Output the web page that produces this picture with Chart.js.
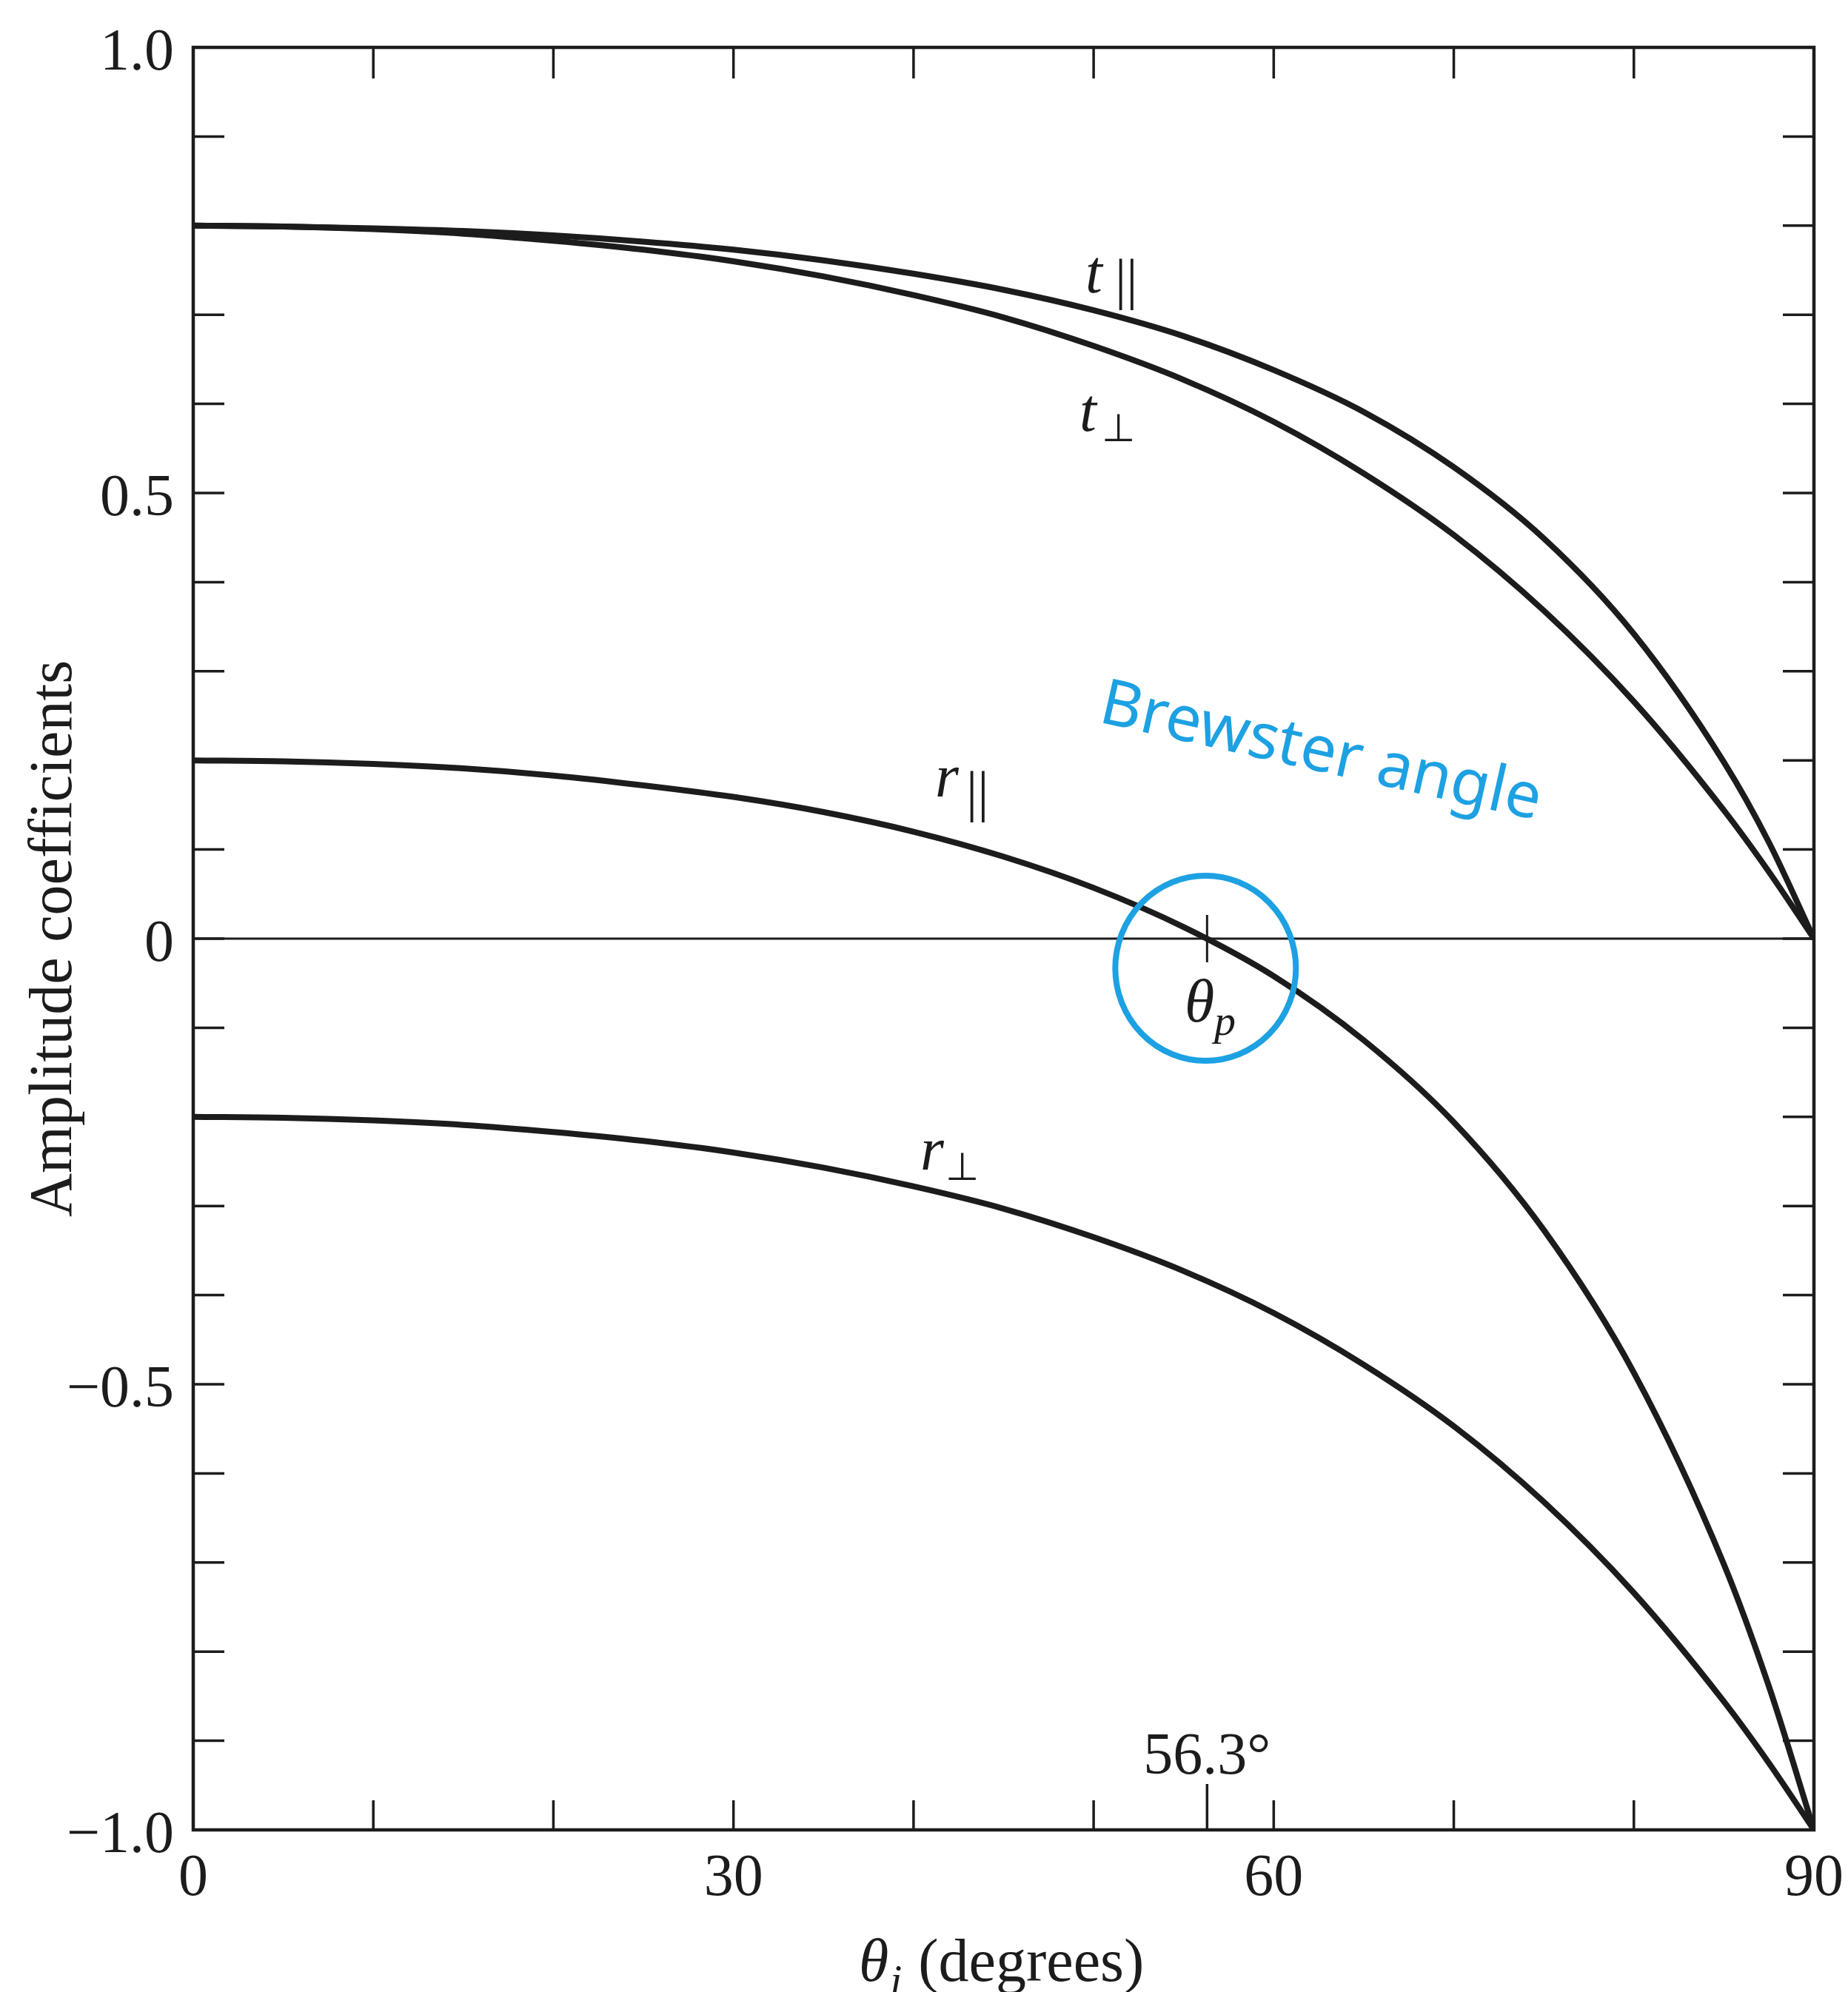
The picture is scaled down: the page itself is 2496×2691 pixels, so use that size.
<!DOCTYPE html>
<html>
<head>
<meta charset="utf-8">
<script src="https://cdn.jsdelivr.net/npm/chart.js@4/dist/chart.umd.min.js"></script>
<style>
html, body { margin: 0; padding: 0; background: #fff; }
#wrap { width: 2496px; height: 2691px; }
</style>
</head>
<body>
<div id="wrap"><canvas id="chart" width="2496" height="2691"></canvas></div>
<script>
// incidence angles (degrees) and amplitude coefficients
var angles = [0, 5, 10, 15, 20, 25, 30, 35, 40, 45, 50, 55, 60, 65, 70, 75, 80, 85, 87.5, 90];
var tPar  = [0.800, 0.799, 0.797, 0.794, 0.789, 0.782, 0.773, 0.761, 0.746, 0.728, 0.705, 0.676, 0.638, 0.591, 0.529, 0.449, 0.342, 0.198, 0.108, 0];
var tPerp = [0.800, 0.799, 0.796, 0.791, 0.783, 0.773, 0.760, 0.743, 0.722, 0.697, 0.665, 0.627, 0.580, 0.522, 0.453, 0.368, 0.266, 0.144, 0.075, 0];
var rPar  = [0.200, 0.199, 0.196, 0.191, 0.183, 0.172, 0.159, 0.142, 0.120, 0.092, 0.057, 0.013, -0.042, -0.114, -0.206, -0.327, -0.487, -0.702, -0.839, -1];
var rPerp = [-0.200, -0.201, -0.204, -0.209, -0.217, -0.227, -0.240, -0.257, -0.278, -0.303, -0.335, -0.373, -0.420, -0.478, -0.547, -0.632, -0.734, -0.856, -0.925, -1];

var xTicks = [0, 10, 20, 30, 40, 50, 60, 70, 80, 90];
var xTickLabels = ['0', '30', '60', '90'];
var xLabelValues = [0, 30, 60, 90];
var yTicks = [-1.0, -0.9, -0.8, -0.7, -0.6, -0.5, -0.4, -0.3, -0.2, -0.1, 0, 0.1, 0.2, 0.3, 0.4, 0.5, 0.6, 0.7, 0.8, 0.9, 1.0];
var yLabelValues = [1.0, 0.5, 0, -0.5, -1.0];
var yTickLabels = ['1.0', '0.5', '0', '\u22120.5', '\u22121.0'];
var brewsterAngle = 56.3;

var INK = '#1c1c1c';
var BLUE = '#1da1e2';
var SERIF = '"Liberation Serif", "Times New Roman", serif';

function points(ys) {
    return angles.map(function(a, i) { return {x: a, y: ys[i]}; });
}

function curve(label, ys) {
    return {
        label: label,
        data: points(ys),
        borderColor: INK,
        borderWidth: 8,
        pointRadius: 0,
        fill: false,
        cubicInterpolationMode: 'monotone'
    };
}

function subLabel(ctx, main, sub, x, base, dx, dy, mainSize, subSize, subItalic) {
    ctx.textAlign = 'left';
    ctx.textBaseline = 'alphabetic';
    ctx.font = 'italic ' + mainSize + 'px ' + SERIF;
    ctx.fillText(main, x, base);
    ctx.font = (subItalic ? 'italic ' : '') + subSize + 'px ' + SERIF;
    ctx.fillText(sub, x + dx, base + dy);
}

var framePlugin = {
    id: 'frame',
    beforeDatasetsDraw: function(chart) {
        var ctx = chart.ctx, a = chart.chartArea;
        var xs = chart.scales.x, ys = chart.scales.y;
        var y0 = ys.getPixelForValue(0);
        ctx.save();
        ctx.strokeStyle = INK;
        ctx.lineWidth = 3;
        ctx.beginPath();
        ctx.moveTo(a.left, y0);
        ctx.lineTo(a.right, y0);
        var xb = xs.getPixelForValue(brewsterAngle);
        ctx.moveTo(xb, y0 - 32);
        ctx.lineTo(xb, y0 + 32);
        ctx.stroke();
        ctx.restore();
    },
    afterDatasetsDraw: function(chart) {
        var ctx = chart.ctx, a = chart.chartArea;
        var xs = chart.scales.x, ys = chart.scales.y;
        ctx.save();
        ctx.strokeStyle = INK;
        ctx.fillStyle = INK;

        // frame
        ctx.lineWidth = 4.5;
        ctx.strokeRect(a.left, a.top, a.right - a.left, a.bottom - a.top);

        // inward ticks on all four sides
        ctx.lineWidth = 3.5;
        ctx.beginPath();
        xTicks.forEach(function(v) {
            var px = xs.getPixelForValue(v);
            ctx.moveTo(px, a.bottom); ctx.lineTo(px, a.bottom - 40);
            ctx.moveTo(px, a.top); ctx.lineTo(px, a.top + 42);
        });
        yTicks.forEach(function(v) {
            var py = ys.getPixelForValue(v);
            ctx.moveTo(a.left, py); ctx.lineTo(a.left + 42, py);
            ctx.moveTo(a.right, py); ctx.lineTo(a.right - 42, py);
        });
        var xb = xs.getPixelForValue(brewsterAngle);
        ctx.moveTo(xb, a.bottom); ctx.lineTo(xb, a.bottom - 62);
        ctx.stroke();

        // tick labels
        ctx.font = '80px ' + SERIF;
        ctx.textBaseline = 'alphabetic';
        ctx.textAlign = 'right';
        yLabelValues.forEach(function(v, i) {
            ctx.fillText(yTickLabels[i], a.left - 26, ys.getPixelForValue(v) + 30);
        });
        ctx.textAlign = 'center';
        xLabelValues.forEach(function(v, i) {
            ctx.fillText(xTickLabels[i], xs.getPixelForValue(v), a.bottom + 88);
        });
        ctx.fillText('56.3\u00b0', xb, a.bottom - 76);

        // axis titles
        ctx.save();
        ctx.translate(96, (a.top + a.bottom) / 2);
        ctx.rotate(-Math.PI / 2);
        ctx.font = '82px ' + SERIF;
        ctx.textAlign = 'center';
        ctx.fillText('Amplitude coefficients', 0, 0);
        ctx.restore();

        ctx.textAlign = 'left';
        var tx = 1160, tb = 2676;
        ctx.font = 'italic 82px ' + SERIF;
        ctx.fillText('\u03b8', tx, tb);
        var w = ctx.measureText('\u03b8').width;
        ctx.font = 'italic 58px ' + SERIF;
        ctx.fillText('i', tx + w + 2, tb + 18);
        ctx.font = '82px ' + SERIF;
        ctx.fillText('(degrees)', tx + w + 40, tb);

        // curve labels
        subLabel(ctx, 't', '||', 1466, 395, 40, 8, 82, 76, false);
        subLabel(ctx, 't', '\u22a5', 1458, 582, 30, 14, 82, 52, false);
        subLabel(ctx, 'r', '||', 1263, 1076, 42, 19, 82, 76, false);
        subLabel(ctx, 'r', '\u22a5', 1243, 1580, 34, 14, 82, 52, false);
        subLabel(ctx, '\u03b8', 'p', 1600, 1380, 40, 18, 82, 58, true);

        // handwritten note
        ctx.strokeStyle = BLUE;
        ctx.fillStyle = BLUE;
        ctx.lineWidth = 8;
        ctx.beginPath();
        ctx.ellipse(xb - 2, ys.getPixelForValue(0) + 40, 122, 125, 0, 0, Math.PI * 2);
        ctx.stroke();
        ctx.save();
        ctx.translate(1482, 975);
        ctx.rotate(0.22);
        ctx.font = '86px "Noto Sans", sans-serif';
        ctx.textAlign = 'left';
        ctx.fillText('Brewster angle', 0, 0);
        ctx.restore();

        ctx.restore();
    }
};

new Chart(document.getElementById('chart'), {
    type: 'line',
    data: {
        datasets: [
            curve('t\u2225', tPar),
            curve('t\u22a5', tPerp),
            curve('r\u2225', rPar),
            curve('r\u22a5', rPerp)
        ]
    },
    options: {
        responsive: false,
        animation: false,
        devicePixelRatio: 1,
        layout: { padding: { left: 261, right: 46, top: 64, bottom: 219 } },
        plugins: { legend: { display: false }, tooltip: { enabled: false } },
        scales: {
            x: { type: 'linear', min: 0, max: 90, display: false },
            y: { type: 'linear', min: -1, max: 1, display: false }
        }
    },
    plugins: [framePlugin]
});
</script>
</body>
</html>
